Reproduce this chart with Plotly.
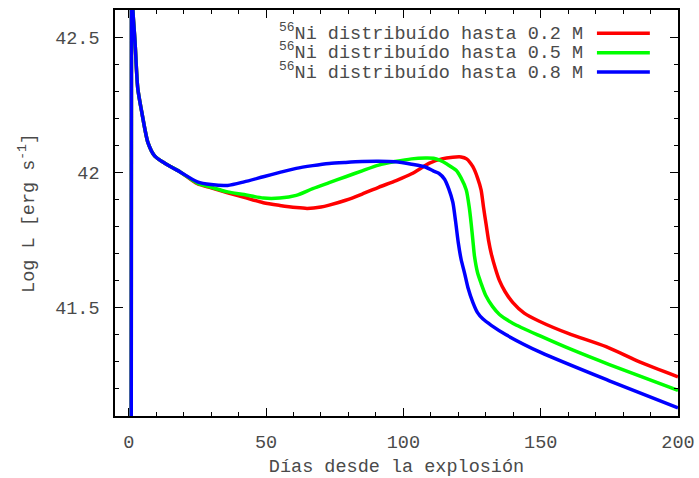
import plotly.graph_objects as go

# ---- data ----
early_x = [0.9, 1.0, 1.4, 2.3, 3.3, 4.8, 7.0, 9.5, 13, 19]
early_y = [40.8, 42.9, 42.62, 42.48, 42.31, 42.22, 42.11, 42.06, 42.035, 42.0]

red_x = early_x + [25, 30, 36, 42, 49, 55, 61, 65, 70, 73, 79, 85, 91, 97.4, 103, 109.5, 114, 118, 121, 123,
                   125.3, 127, 128.3, 129.2, 130.1, 131, 132, 133.5, 135, 137, 139.8, 144, 149.5, 160, 173.8, 186, 200]
red_y = early_y + [41.958, 41.943, 41.925, 41.908, 41.888, 41.878, 41.870, 41.867, 41.872, 41.879, 41.897, 41.92,
                   41.945, 41.97, 41.995, 42.034, 42.05, 42.056, 42.057, 42.05, 42.021, 41.98, 41.935, 41.87, 41.81,
                   41.75, 41.70, 41.645, 41.60, 41.56, 41.52, 41.48, 41.45, 41.405, 41.356, 41.30, 41.245]

green_x = early_x + [25, 30, 36, 42, 49, 55, 61, 67, 73, 79, 85, 91, 97, 103, 108, 111, 113.2, 116, 119.2, 121,
                     122.9, 124, 124.7, 125.3, 125.9, 127, 128.3, 130, 132.5, 135, 139.8, 150, 161.6, 175, 200]
green_y = early_y + [41.96, 41.945, 41.928, 41.918, 41.905, 41.905, 41.915, 41.94, 41.962, 41.984, 42.006, 42.027,
                     42.04, 42.05, 42.053, 42.052, 42.045, 42.03, 42.008, 41.98, 41.935, 41.87, 41.81, 41.75, 41.69,
                     41.63, 41.59, 41.545, 41.504, 41.475, 41.443, 41.395, 41.344, 41.29, 41.195]

blue_x = early_x + [25, 30, 36, 42, 49, 55, 61, 67, 73, 79, 85, 91, 97, 103, 108, 111, 113, 115, 116.5, 118, 119,
                    120, 121, 122.3, 123.5, 125.3, 127, 129, 132, 137.4, 150, 175, 200]
blue_y = early_y + [41.965, 41.955, 41.952, 41.965, 41.984, 42.0, 42.015, 42.025, 42.033, 42.037, 42.04, 42.041,
                    42.039, 42.03, 42.02, 42.005, 41.996, 41.975, 41.94, 41.89, 41.82, 41.74, 41.68, 41.627, 41.575,
                    41.52, 41.482, 41.458, 41.435, 41.40, 41.335, 41.23, 41.13]

series_names = ["<sup>56</sup>Ni distribuído hasta 0.2 M",
                "<sup>56</sup>Ni distribuído hasta 0.5 M",
                "<sup>56</sup>Ni distribuído hasta 0.8 M"]
series_colors = ["#ff0000", "#00ff00", "#0000ff"]

x_ticks = [0, 50, 100, 150, 200]
y_ticks = [41.5, 42, 42.5]
y_ticktext = ["41.5", "42", "42.5"]

FONT = "Liberation Mono"
TXT = "#4a4a4a"
FS = 18.5

fig = go.Figure()
for xs, ys, col, name in zip([red_x, green_x, blue_x], [red_y, green_y, blue_y], series_colors, series_names):
    fig.add_trace(go.Scatter(x=xs, y=ys, mode="lines", name=name,
                             line=dict(color=col, width=3.5, shape="spline", smoothing=0.7),
                             showlegend=False))

# gnuplot-style key: text right-aligned, sample line to the right
row_y = [0.945, 0.897, 0.849]
line_y = [0.9426, 0.8948, 0.8473]
for i, (name, col) in enumerate(zip(series_names, series_colors)):
    fig.add_annotation(xref="paper", yref="paper", x=0.835, y=row_y[i], text=name,
                       xanchor="right", yanchor="middle", showarrow=False,
                       font=dict(family=FONT, size=FS, color=TXT))
    fig.add_shape(type="line", xref="paper", yref="paper", x0=0.856, x1=0.950,
                  y0=line_y[i], y1=line_y[i], line=dict(color=col, width=3.5))

axis_common = dict(showline=True, linecolor="#000000", linewidth=1.5, mirror="allticks",
                   ticks="inside", ticklen=8, tickwidth=1, tickcolor="#000000",
                   showgrid=False, zeroline=False, automargin=False,
                   tickfont=dict(family=FONT, size=FS, color=TXT))

fig.update_xaxes(range=[-5, 200], tickvals=x_ticks,
                 minor=dict(dtick=10, ticks="inside", ticklen=4, tickcolor="#000000"),
                 title=dict(text="Días desde la explosión", font=dict(family=FONT, size=FS, color=TXT), standoff=10),
                 ticklabelstandoff=8,
                 **axis_common)
fig.update_yaxes(range=[41.1, 42.6], tickvals=y_ticks, ticktext=y_ticktext,
                 minor=dict(dtick=0.1, tick0=41.0, ticks="inside", ticklen=4, tickcolor="#000000"),
                 title=dict(text="Log L [erg s<sup>-1</sup>]", font=dict(family=FONT, size=FS, color=TXT), standoff=16),
                 ticklabelstandoff=10,
                 **axis_common)

fig.update_layout(width=699, height=478, margin=dict(l=115, r=21, t=10, b=62),
                  paper_bgcolor="white", plot_bgcolor="white", showlegend=False)

fig.write_html("out.html", config={"displayModeBar": False},
               post_script="document.body.style.margin='0px';")
